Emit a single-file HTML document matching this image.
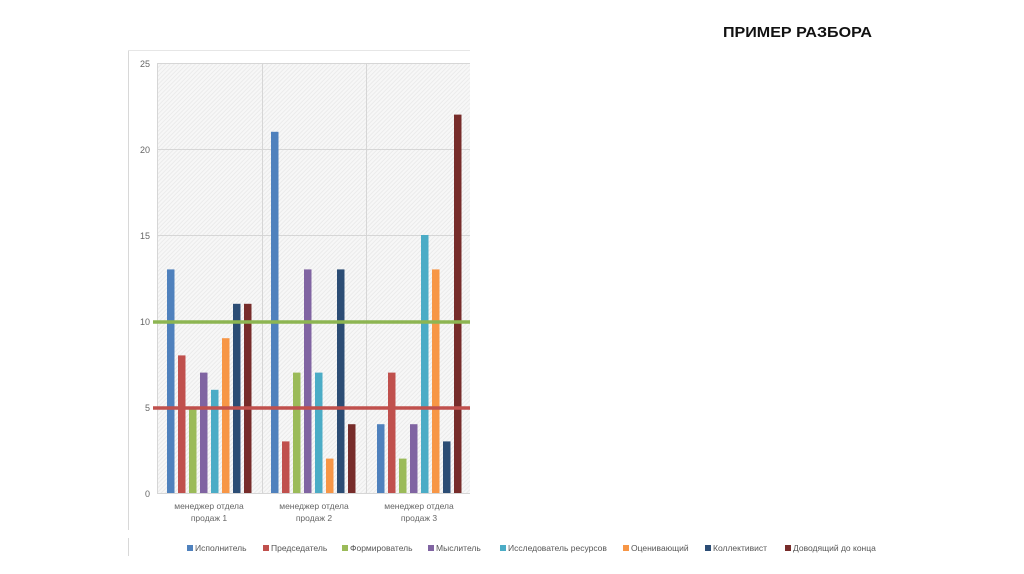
<!DOCTYPE html>
<html><head><meta charset="utf-8"><style>
html,body{margin:0;padding:0;background:#fff;}
svg{display:block;font-family:"Liberation Sans",sans-serif;}
</style></head><body>
<svg width="1024" height="574" viewBox="0 0 1024 574">
<defs>
<pattern id="h" width="3" height="3" patternUnits="userSpaceOnUse" patternTransform="rotate(45)">
<rect width="3" height="3" fill="#f7f7f7"/><rect width="1" height="3" fill="#ebebeb"/>
</pattern>
</defs>
<text x="723" y="37" font-size="15" font-weight="bold" textLength="149" lengthAdjust="spacingAndGlyphs" fill="#111">ПРИМЕР РАЗБОРА</text>
<line x1="128.5" y1="50" x2="128.5" y2="530" stroke="#d8d8d8"/>
<line x1="128" y1="50.5" x2="470" y2="50.5" stroke="#e6e6e6"/>
<line x1="128.5" y1="538" x2="128.5" y2="556" stroke="#d8d8d8"/>
<rect x="157" y="63" width="313" height="430" fill="url(#h)"/>
<g stroke="#d6d6d6" stroke-width="1">
<line x1="157" y1="63.5" x2="470" y2="63.5"/>
<line x1="157" y1="149.5" x2="470" y2="149.5"/>
<line x1="157" y1="235.5" x2="470" y2="235.5"/>
<line x1="157" y1="321.5" x2="470" y2="321.5"/>
<line x1="157" y1="407.5" x2="470" y2="407.5"/>
<line x1="157" y1="493.5" x2="470" y2="493.5"/>
<line x1="157.5" y1="63" x2="157.5" y2="493"/>
<line x1="262.5" y1="63" x2="262.5" y2="493"/>
<line x1="366.5" y1="63" x2="366.5" y2="493"/>
</g>
<g font-size="9" fill="#666" text-anchor="end">
<text x="150" y="67">25</text><text x="150" y="153">20</text><text x="150" y="239">15</text>
<text x="150" y="325">10</text><text x="150" y="411">5</text><text x="150" y="497">0</text>
</g>
<g>
<rect x="167" y="269.4" width="7.5" height="223.6" fill="#4f81bd"/>
<rect x="178" y="355.4" width="7.5" height="137.6" fill="#c0504d"/>
<rect x="189" y="407" width="7.5" height="86" fill="#9bbb59"/>
<rect x="200" y="372.6" width="7.5" height="120.4" fill="#8064a2"/>
<rect x="211" y="389.8" width="7.5" height="103.2" fill="#4bacc6"/>
<rect x="222" y="338.2" width="7.5" height="154.8" fill="#f79646"/>
<rect x="233" y="303.8" width="7.5" height="189.2" fill="#2c4d75"/>
<rect x="244" y="303.8" width="7.5" height="189.2" fill="#772c2a"/>

<rect x="271" y="131.8" width="7.5" height="361.2" fill="#4f81bd"/>
<rect x="282" y="441.4" width="7.5" height="51.6" fill="#c0504d"/>
<rect x="293" y="372.6" width="7.5" height="120.4" fill="#9bbb59"/>
<rect x="304" y="269.4" width="7.5" height="223.6" fill="#8064a2"/>
<rect x="315" y="372.6" width="7.5" height="120.4" fill="#4bacc6"/>
<rect x="326" y="458.6" width="7.5" height="34.4" fill="#f79646"/>
<rect x="337" y="269.4" width="7.5" height="223.6" fill="#2c4d75"/>
<rect x="348" y="424.2" width="7.5" height="68.8" fill="#772c2a"/>

<rect x="377" y="424.2" width="7.5" height="68.8" fill="#4f81bd"/>
<rect x="388" y="372.6" width="7.5" height="120.4" fill="#c0504d"/>
<rect x="399" y="458.6" width="7.5" height="34.4" fill="#9bbb59"/>
<rect x="410" y="424.2" width="7.5" height="68.8" fill="#8064a2"/>
<rect x="421" y="235" width="7.5" height="258" fill="#4bacc6"/>
<rect x="432" y="269.4" width="7.5" height="223.6" fill="#f79646"/>
<rect x="443" y="441.4" width="7.5" height="51.6" fill="#2c4d75"/>
<rect x="454" y="114.6" width="7.5" height="378.4" fill="#772c2a"/>
</g>
<line x1="153" y1="322" x2="470" y2="322" stroke="#8db552" stroke-width="3.5"/>
<line x1="153" y1="408" x2="470" y2="408" stroke="#c0504d" stroke-width="3.5"/>
<g font-size="8.5" fill="#666" text-anchor="middle">
<text x="209" y="509">менеджер отдела</text><text x="209" y="521">продаж 1</text>
<text x="314" y="509">менеджер отдела</text><text x="314" y="521">продаж 2</text>
<text x="419" y="509">менеджер отдела</text><text x="419" y="521">продаж 3</text>
</g>
<g font-size="8.5" fill="#555">
<rect x="187" y="545" width="6" height="6" fill="#4f81bd"/><text x="195" y="551">Исполнитель</text>
<rect x="263" y="545" width="6" height="6" fill="#c0504d"/><text x="271" y="551">Председатель</text>
<rect x="342" y="545" width="6" height="6" fill="#9bbb59"/><text x="350" y="551">Формирователь</text>
<rect x="428" y="545" width="6" height="6" fill="#8064a2"/><text x="436" y="551">Мыслитель</text>
<rect x="500" y="545" width="6" height="6" fill="#4bacc6"/><text x="508" y="551">Исследователь ресурсов</text>
<rect x="623" y="545" width="6" height="6" fill="#f79646"/><text x="631" y="551">Оценивающий</text>
<rect x="705" y="545" width="6" height="6" fill="#2c4d75"/><text x="713" y="551">Коллективист</text>
<rect x="785" y="545" width="6" height="6" fill="#772c2a"/><text x="793" y="551">Доводящий до конца</text>
</g>
</svg>
</body></html>
